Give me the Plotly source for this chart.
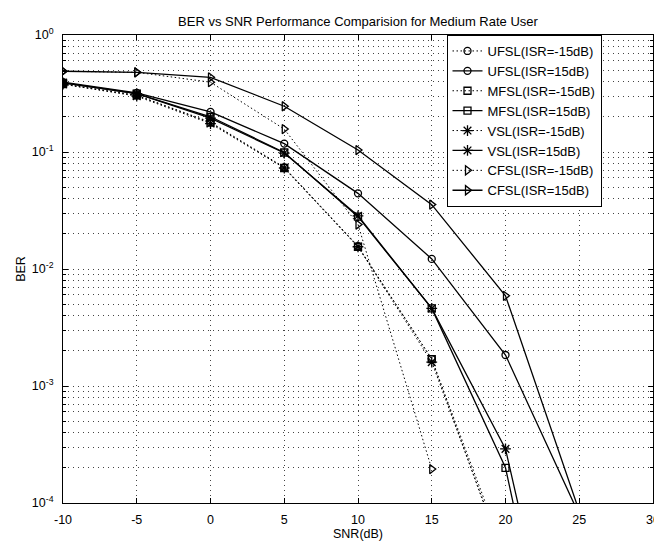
import plotly.graph_objects as go

# ---------------- data ----------------
snr = [-10, -5, 0, 5, 10, 15, 20, 25]

ufsl_m15 = [0.38, 0.305, 0.18, 0.074, 0.0157, 0.0017, 3.5e-5]
ufsl_p15 = [0.395, 0.32, 0.22, 0.118, 0.0443, 0.0122, 0.00184, 7.9e-5]
mfsl_m15 = [0.38, 0.305, 0.178, 0.073, 0.0155, 0.0017, 3.0e-5]
mfsl_p15 = [0.39, 0.315, 0.2, 0.099, 0.028, 0.0046, 2.0e-4, 2.5e-7]
vsl_m15 = [0.38, 0.30, 0.175, 0.073, 0.0155, 0.0016, 3.2e-5]
vsl_p15 = [0.39, 0.315, 0.195, 0.098, 0.0285, 0.0046, 2.9e-4, 5e-7]
cfsl_m15 = [0.49, 0.48, 0.395, 0.157, 0.024, 1.95e-4]
cfsl_p15 = [0.49, 0.48, 0.435, 0.246, 0.104, 0.0355, 0.0059, 8.5e-5]

series_names = ["UFSL(ISR=-15dB)", "UFSL(ISR=15dB)", "MFSL(ISR=-15dB)", "MFSL(ISR=15dB)",
                "VSL(ISR=-15dB)", "VSL(ISR=15dB)", "CFSL(ISR=-15dB)", "CFSL(ISR=15dB)"]
series_values = [ufsl_m15, ufsl_p15, mfsl_m15, mfsl_p15, vsl_m15, vsl_p15, cfsl_m15, cfsl_p15]

x_ticks = [-10, -5, 0, 5, 10, 15, 20, 25, 30]
y_ticks = [1e-4, 1e-3, 1e-2, 1e-1, 1]
y_ticktext = ["10<sup>-4</sup>", "10<sup>-3</sup>", "10<sup>-2</sup>", "10<sup>-1</sup>", "10<sup>0</sup>"]

# ---------------- styles ----------------
symbols = ["circle-open", "circle-open", "square-open", "square-open",
           "asterisk-open", "asterisk-open", "triangle-right-open", "triangle-right-open"]
sizes = [7, 7, 7, 7, 9, 9, 8, 8]
dotted = "1.5px,2.5px"

fig = go.Figure()
for i, (name, vals) in enumerate(zip(series_names, series_values)):
    is_m15 = (i % 2 == 0)
    fig.add_trace(go.Scatter(
        x=snr[:len(vals)], y=vals, name=name, mode="lines+markers",
        line=dict(color="black", width=1.0 if is_m15 else 1.3, dash=dotted if is_m15 else "solid"),
        marker=dict(symbol=symbols[i], size=sizes[i], color="black",
                    line=dict(color="black", width=1.3)),
        cliponaxis=True,
    ))

font_family = "Liberation Sans, Arial, Helvetica, sans-serif"
minor_vals = [m * 10 ** e for e in range(-4, 0) for m in range(2, 10)]
grid_dash = "1px,4px"
grid_color = "#444"

fig.update_layout(
    width=662, height=541,
    margin=dict(l=55, r=10, t=27, b=38),
    paper_bgcolor="white", plot_bgcolor="white",
    font=dict(family=font_family, size=12, color="black"),
    title=dict(text="BER vs SNR Performance Comparision for Medium Rate User",
               x=0.5, xref="paper", xanchor="center",
               y=1 - 13 / 541, yref="container", yanchor="middle",
               font=dict(size=13, color="black")),
    showlegend=True,
    legend=dict(x=0.65, y=1, xanchor="left", yanchor="top",
                bgcolor="white", bordercolor="black", borderwidth=1,
                font=dict(size=13, color="black"), tracegroupgap=0),
)

fig.update_xaxes(
    range=[-10, 30], tickvals=x_ticks, ticktext=[str(t) for t in x_ticks],
    tickfont=dict(size=12.5),
    showline=True, linecolor="black", linewidth=1, mirror="ticks",
    ticks="inside", ticklen=5, tickcolor="black", ticklabelstandoff=5,
    showgrid=True, gridcolor=grid_color, gridwidth=1, griddash=grid_dash,
    zeroline=False,
    title=dict(text="SNR(dB)", standoff=3, font=dict(size=12.5)),
)
fig.update_yaxes(
    type="log", range=[-4, 0], tickvals=y_ticks, ticktext=y_ticktext,
    tickfont=dict(size=12.5),
    showline=True, linecolor="black", linewidth=1, mirror="ticks",
    ticks="inside", ticklen=5, tickcolor="black", ticklabelstandoff=6,
    showgrid=True, gridcolor=grid_color, gridwidth=1, griddash=grid_dash,
    zeroline=False,
    minor=dict(tickvals=minor_vals, showgrid=True, gridcolor=grid_color, gridwidth=1,
               griddash=grid_dash, ticks="inside", ticklen=3, tickcolor="black"),
    title=dict(text="BER", standoff=3, font=dict(size=12.5)),
)

fig.write_html("out.html")
